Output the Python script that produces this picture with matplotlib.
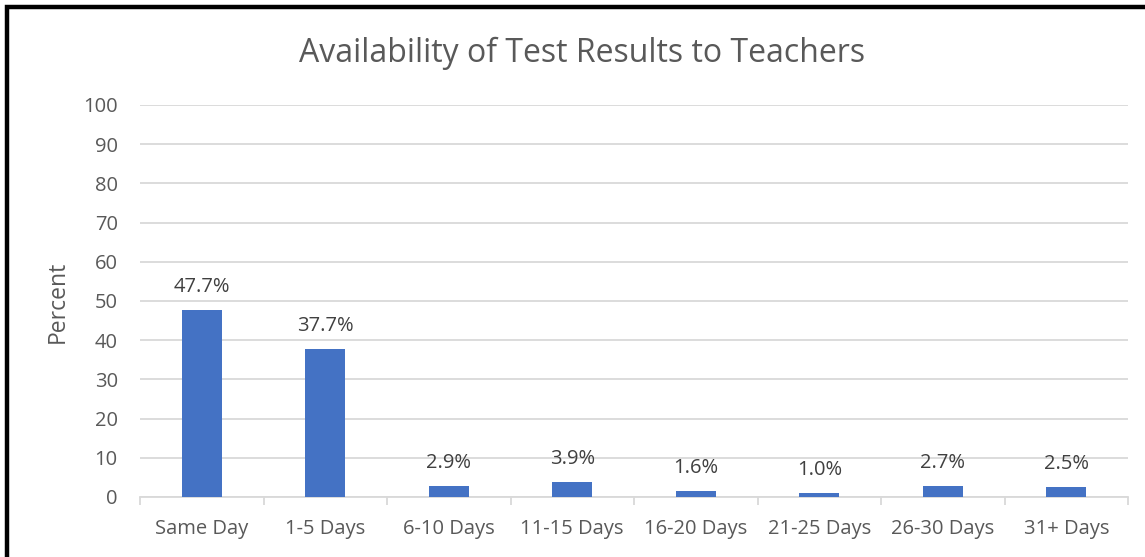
import matplotlib
matplotlib.use("Agg")
from matplotlib import pyplot as plt
from matplotlib.lines import Line2D
import numpy as np

plt.rcParams['font.family'] = ['Open Sans', 'DejaVu Sans']

categories = ["Same Day", "1-5 Days", "6-10 Days", "11-15 Days", "16-20 Days",
              "21-25 Days", "26-30 Days", "31+ Days"]
percent = [47.7, 37.7, 2.9, 3.9, 1.6, 1.0, 2.7, 2.5]

grey_text = "#595959"
grid_col = "#D9D9D9"

fig = plt.figure(figsize=(11.45, 5.57), dpi=100)
ax = fig.add_axes([140 / 1145, 60 / 557, 988 / 1145, 392 / 557])

x = np.arange(len(categories))
ax.bar(x, percent, width=0.32, color="#4472C4", zorder=3)

# labels above the bars
for xi, v in zip(x, percent):
    ax.annotate("{:.1f}%".format(v), (xi, v), xytext=(0, 13), textcoords="offset points",
                ha="center", va="baseline", fontsize=14.5, color="#404040")

ax.set_xlim(-0.5, len(categories) - 0.5)
ax.set_ylim(0, 100)
ax.set_yticks(range(0, 101, 10))
ax.set_xticks(x)
ax.set_xticklabels(categories)
ax.set_xticks(np.arange(-0.5, len(categories), 1), minor=True)

ax.grid(axis="y", color=grid_col, linewidth=1.3, zorder=0)
for s in ["top", "right", "left"]:
    ax.spines[s].set_visible(False)
ax.spines["bottom"].set_color(grid_col)
ax.spines["bottom"].set_linewidth(1.3)

ax.tick_params(axis="x", which="major", length=0, pad=16, labelsize=14.5, labelcolor=grey_text)
ax.tick_params(axis="x", which="minor", length=6, color=grid_col, width=1.3)
ax.tick_params(axis="y", length=0, pad=16, labelsize=14.5, labelcolor=grey_text)

fig.text(58 / 1145, 1 - 302 / 557, "Percent", rotation=90, ha="center", va="center",
         fontsize=16.5, color=grey_text)
fig.text(0.508, 1 - 53 / 557, "Availability of Test Results to Teachers", ha="center",
         va="center", fontsize=23, color=grey_text)

# black frame on left and top
fig.add_artist(Line2D([7 / 1145, 7 / 1145, 1], [0, 1 - 7 / 557, 1 - 7 / 557],
                      transform=fig.transFigure, color="black", linewidth=3.2,
                      solid_joinstyle="miter"))

fig.savefig("out.png", dpi=100)
